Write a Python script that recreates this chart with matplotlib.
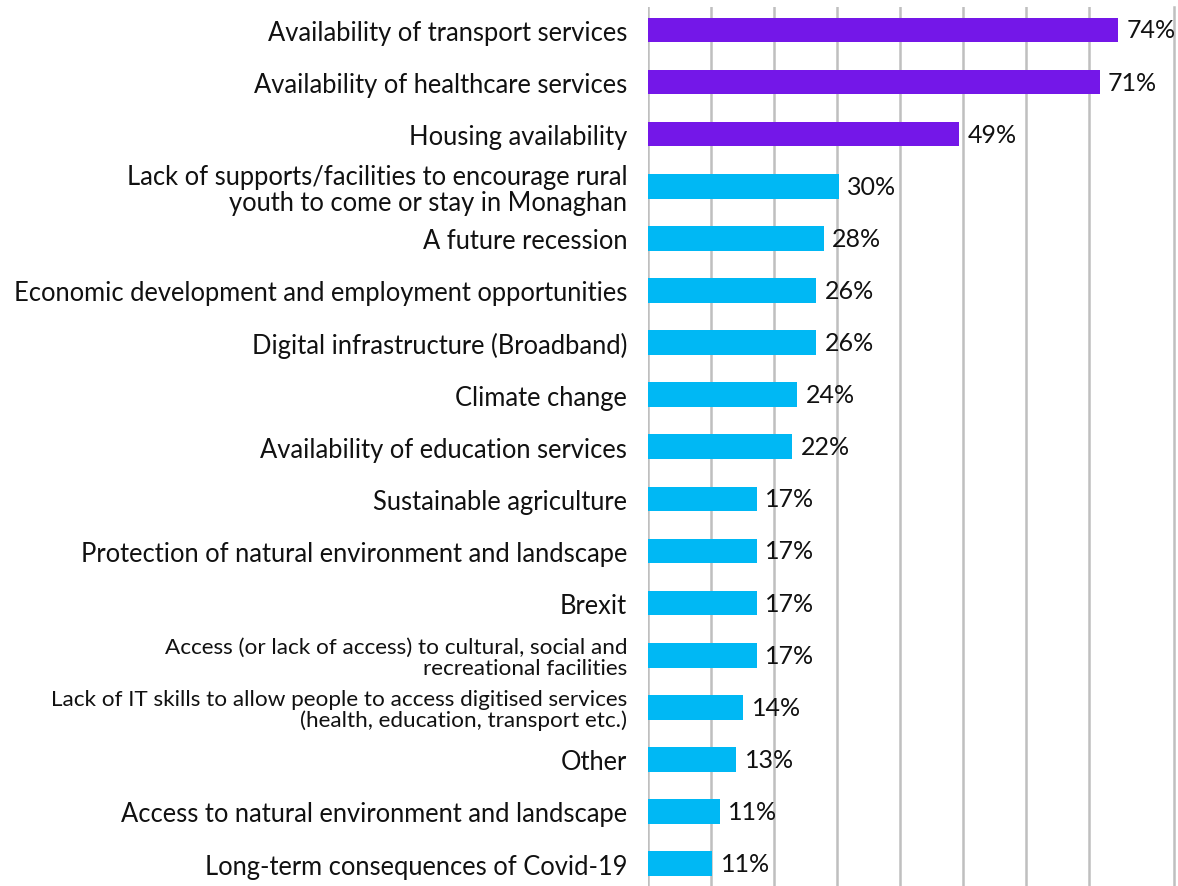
import numpy as np
from matplotlib import pyplot as plt

plt.rcParams['font.family'] = ['Lato', 'DejaVu Sans']

# categories, top to bottom
categories = [
    "Availability of transport services",
    "Availability of healthcare services",
    "Housing availability",
    "Lack of supports/facilities to encourage rural\nyouth to come or stay in Monaghan",
    "A future recession",
    "Economic development and employment opportunities",
    "Digital infrastructure (Broadband)",
    "Climate change",
    "Availability of education services",
    "Sustainable agriculture",
    "Protection of natural environment and landscape",
    "Brexit",
    "Access (or lack of access) to cultural, social and\nrecreational facilities",
    "Lack of IT skills to allow people to access digitised services\n(health, education, transport etc.)",
    "Other",
    "Access to natural environment and landscape",
    "Long-term consequences of Covid-19",
]
# bar lengths (%)
values = [74.6, 71.7, 49.4, 30.3, 27.9, 26.7, 26.7, 23.7, 22.9, 17.3, 17.3, 17.3, 17.3, 15.1, 14.0, 11.4, 10.2]
# data labels as printed
value_labels = ["74%", "71%", "49%", "30%", "28%", "26%", "26%", "24%", "22%",
                "17%", "17%", "17%", "17%", "14%", "13%", "11%", "11%"]
n_top = 3  # first three highlighted

purple = "#7417E8"
cyan = "#00B8F4"
grid_col = "#BFBFBF"

fig = plt.figure(figsize=(11.78, 8.87), dpi=100)
ax = fig.add_axes([648 / 1178, 0.0, (1174 - 648) / 1178, 1 - 8 / 887])

y = np.arange(len(categories))
colors = [purple if i < n_top else cyan for i in range(len(categories))]
ax.barh(y, values, height=0.473, color=colors, zorder=3)

for yi, v, lab in zip(y, values, value_labels):
    ax.annotate(lab, (v, yi), xytext=(6, 0), textcoords="offset points",
                ha="left", va="center", fontsize=18, color="#111111", zorder=4)

ax.set_xlim(0, 83.5)
ax.set_ylim(16.43, -0.44)
ax.set_xticks(np.arange(0, 80, 10))
ax.xaxis.grid(True, color=grid_col, linewidth=1.8, zorder=0)
ax.tick_params(axis="x", length=0, labelbottom=False)
ax.tick_params(axis="y", length=0, pad=15)
ax.set_yticks(y)
ax.set_yticklabels(categories, fontsize=18.4, color="#111111", linespacing=1.05)
for lbl in ax.get_yticklabels():
    if "\n" in lbl.get_text() and "Monaghan" not in lbl.get_text():
        lbl.set_fontsize(16.2)

for side in ["top", "bottom", "left"]:
    ax.spines[side].set_visible(False)
ax.spines["right"].set_color(grid_col)
ax.spines["right"].set_linewidth(1.8)

fig.savefig("out.png", dpi=100)
